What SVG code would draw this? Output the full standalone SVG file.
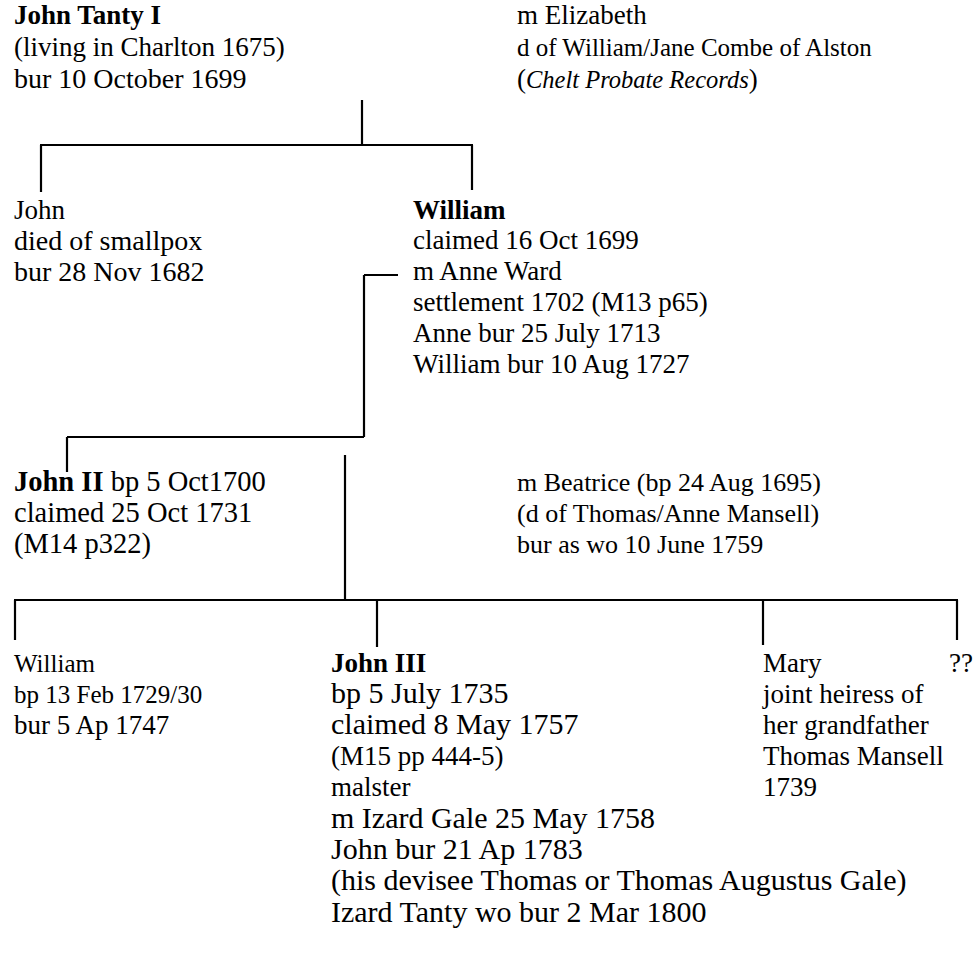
<svg xmlns="http://www.w3.org/2000/svg" width="978" height="959" viewBox="0 0 978 959">
<style>
text{font-family:"Liberation Serif","Times New Roman",serif;font-size:27px;fill:#000}
.b{font-weight:bold}
.i{font-style:italic;font-size:24.5px}
.r{font-size:25px}
.t{font-size:28px}
.m{font-size:28.5px}
.s{font-size:26px}
.l{font-size:30px}
.c line{stroke:#000;stroke-width:2.2;fill:none}
</style>
<rect width="978" height="959" fill="#fff"/>
<g id="john-tanty-i">
<text x="14" y="24" class="b">John Tanty I</text>
<text x="14" y="56">(living in Charlton 1675)</text>
<text x="14" y="88" class="t">bur 10 October 1699</text>
</g>
<g id="elizabeth">
<text x="517" y="24">m Elizabeth</text>
<text x="517" y="56" class="r">d of William/Jane Combe of Alston</text>
<text x="517" y="88">(<tspan class="i">Chelt Probate Records</tspan>)</text>
</g>
<g id="john">
<text x="14" y="219">John</text>
<text x="14" y="250" class="t">died of smallpox</text>
<text x="14" y="281" class="t">bur 28 Nov 1682</text>
</g>
<g id="william">
<text x="413" y="219" class="b">William</text>
<text x="413" y="249">claimed 16 Oct 1699</text>
<text x="413" y="280">m Anne Ward</text>
<text x="413" y="311">settlement 1702 (M13 p65)</text>
<text x="413" y="342">Anne bur 25 July 1713</text>
<text x="413" y="373">William bur 10 Aug 1727</text>
</g>
<g id="john-ii">
<text x="14" y="491" class="m"><tspan class="b">John II</tspan> bp 5 Oct1700</text>
<text x="14" y="522" class="m">claimed 25 Oct 1731</text>
<text x="14" y="553" class="m">(M14 p322)</text>
</g>
<g id="beatrice">
<text x="517" y="491" class="s">m Beatrice (bp 24 Aug 1695)</text>
<text x="517" y="522" class="s">(d of Thomas/Anne Mansell)</text>
<text x="517" y="553" class="s">bur as wo 10 June 1759</text>
</g>
<g id="william-2">
<text x="14" y="672" class="r">William</text>
<text x="14" y="703" class="r">bp 13 Feb 1729/30</text>
<text x="14" y="734">bur 5 Ap 1747</text>
</g>
<g id="john-iii">
<text x="331" y="672" class="b">John III</text>
<text x="331" y="703" class="l">bp 5 July 1735</text>
<text x="331" y="734" class="l">claimed 8 May 1757</text>
<text x="331" y="765">(M15 pp 444-5)</text>
<text x="331" y="796">malster</text>
<text x="331" y="828" class="l">m Izard Gale 25 May 1758</text>
<text x="331" y="859" class="l">John bur 21 Ap 1783</text>
<text x="331" y="890" class="l">(his devisee Thomas or Thomas Augustus Gale)</text>
<text x="331" y="922" class="l">Izard Tanty wo bur 2 Mar 1800</text>
</g>
<g id="mary">
<text x="763" y="672">Mary</text>
<text x="763" y="703">joint heiress of</text>
<text x="763" y="734">her grandfather</text>
<text x="763" y="765">Thomas Mansell</text>
<text x="763" y="796">1739</text>
</g>
<g id="unknown">
<text x="949" y="672">??</text>
</g>
<g id="connectors" class="c">
<line x1="362" y1="100" x2="362" y2="145"/>
<line x1="40" y1="145" x2="473" y2="145"/>
<line x1="41" y1="145" x2="41" y2="192"/>
<line x1="472" y1="145" x2="472" y2="190"/>
<line x1="398" y1="275" x2="364" y2="275"/>
<line x1="364" y1="275" x2="364" y2="437"/>
<line x1="364" y1="437" x2="67" y2="437"/>
<line x1="67" y1="437" x2="67" y2="472"/>
<line x1="345" y1="455" x2="345" y2="600"/>
<line x1="14" y1="600" x2="958" y2="600"/>
<line x1="15" y1="600" x2="15" y2="640"/>
<line x1="377" y1="600" x2="377" y2="647"/>
<line x1="763" y1="600" x2="763" y2="645"/>
<line x1="957" y1="600" x2="957" y2="640"/>
</g>
</svg>
